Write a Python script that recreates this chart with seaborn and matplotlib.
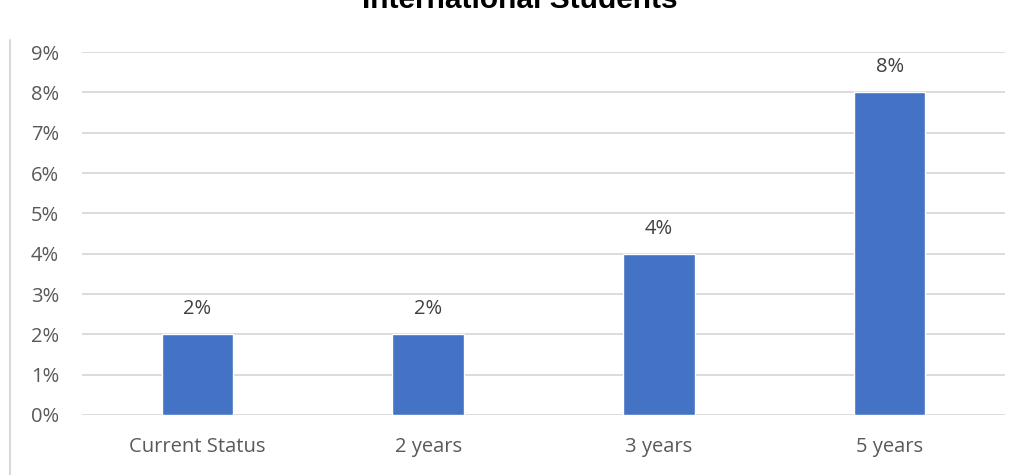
import matplotlib
matplotlib.use("Agg")
import matplotlib.pyplot as plt
from matplotlib.lines import Line2D
from matplotlib.ticker import PercentFormatter
import seaborn as sns
import pandas as pd

# Chart data
categories = ["Current Status", "2 years", "3 years", "5 years"]
shares = [0.02, 0.02, 0.04, 0.08]
bar_labels = ["2%", "2%", "4%", "8%"]
title = "International Students"

df = pd.DataFrame({"period": categories, "share": shares})

sns.set_theme(style="white")
plt.rcParams["font.family"] = ["Open Sans", "DejaVu Sans"]

fig = plt.figure(figsize=(10.21, 4.75), dpi=100)
ax = fig.add_axes([82 / 1021, 1 - 415 / 475, (1005 - 82) / 1021, (415 - 52) / 475])

sns.barplot(data=df, x="period", y="share", color="#4472C4", width=0.31,
            saturation=1, ax=ax, zorder=3)

ax.set_ylim(0, 0.09)
ax.set_yticks([i / 100 for i in range(10)])
ax.yaxis.set_major_formatter(PercentFormatter(1.0, decimals=0))
ax.grid(axis="y", color="#d9d9d9", linewidth=1.3, zorder=0)
ax.set_axisbelow(True)
for s in ax.spines.values():
    s.set_visible(False)
ax.tick_params(axis="both", length=0, labelsize=14.5, labelcolor="#595959")
ax.tick_params(axis="y", pad=16.5)
ax.tick_params(axis="x", pad=16)
ax.set_xlabel("")
ax.set_ylabel("")

for patch, lab in zip(ax.patches, bar_labels):
    ax.annotate(lab, (patch.get_x() + patch.get_width() / 2, patch.get_height()),
                xytext=(0, 14.4), textcoords="offset points", ha="center", va="baseline",
                fontsize=14.5, color="#404040")

fig.text(520 / 1021, 1 - 7.5 / 475, title, ha="center", va="baseline",
         fontsize=21.5, fontweight="bold", family="Liberation Sans", color="#000000")

fig.add_artist(Line2D([10 / 1021, 10 / 1021], [0, 1 - 40 / 475],
                      transform=fig.transFigure, color="#d9d9d9", linewidth=1.5))

fig.savefig("out.png", dpi=100, facecolor="white")
